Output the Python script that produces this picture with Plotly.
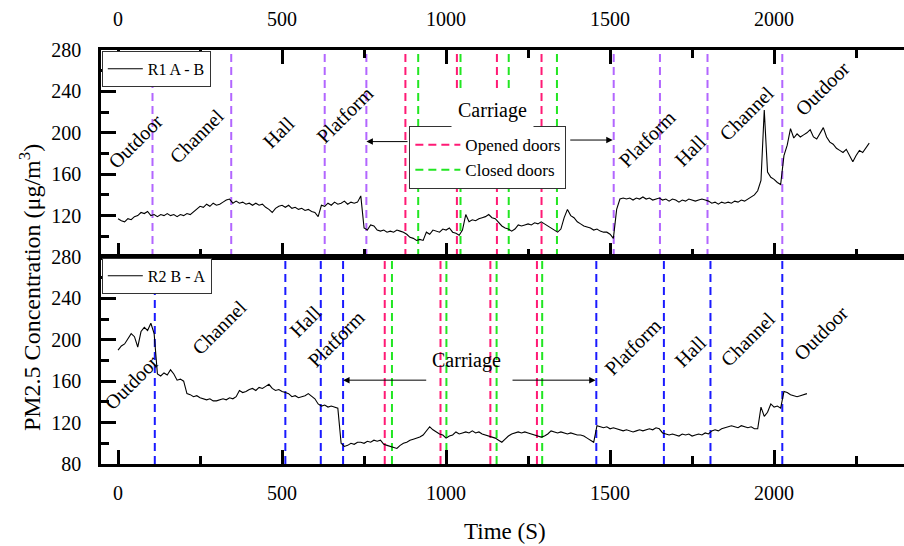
import plotly.graph_objects as go

# ---------------- data ----------------
# R1 (A -> B), sampled every 10 s
r1_time = list(range(0, 2300, 10))
r1_pm = [
    117, 115, 114, 117, 116, 119, 120, 123, 122, 124,
    120, 121, 119, 121, 120, 122, 120, 121, 119, 121,
    120, 122, 121, 124, 126, 129, 128, 131, 129, 132,
    130, 131, 133, 135, 136, 132, 134, 132, 133, 131,
    132, 130, 132, 130, 131, 128, 126, 123, 127, 129,
    130, 128, 130, 127, 128, 126, 127, 125, 126, 124,
    123, 119, 130, 129, 132, 130, 133, 131, 132, 134,
    131, 133, 132, 133, 139, 108, 106, 111, 110, 106,
    105, 106, 104, 105, 104, 106, 105, 104, 102, 99,
    98, 96, 97, 96, 104, 102, 106, 105, 104, 107,
    106, 108, 104, 103, 101, 106, 121, 114, 116, 115,
    117, 118, 119, 121, 118, 117, 113, 110, 108, 107,
    105, 107, 111, 110, 111, 112, 111, 113, 112, 114,
    112, 110, 108, 106, 104, 107, 118, 126, 120, 118,
    114, 112, 110, 109, 108, 106, 107, 105, 104, 104,
    102, 98, 126, 136, 137, 136, 137, 135, 137, 136,
    138, 136, 137, 135, 136, 137, 135, 136, 134, 136,
    135, 133, 135, 134, 136, 135, 134, 135, 136, 135,
    134, 132, 133, 131, 133, 132, 133, 132, 134, 133,
    135, 134, 136, 138, 140, 144, 154, 222, 162, 157,
    155, 152, 150, 178, 188, 204, 195, 199, 196, 198,
    200, 203, 196, 194, 200, 205, 196, 191, 189, 185,
    183, 181, 184, 178, 172, 178, 183, 181, 186, 190,
]

# R2 (B -> A), sampled every 10 s
r2_time = list(range(0, 2110, 10))
r2_pm = [
    190, 194, 196, 201, 206, 203, 193, 208, 212, 209,
    216, 206, 167, 165, 168, 166, 171, 167, 161, 162,
    160, 148, 147, 145, 146, 144, 143, 142, 143, 141,
    141, 142, 143, 142, 144, 143, 145, 151, 149, 150,
    152, 153, 151, 154, 153, 155, 157, 153, 151, 152,
    150, 149, 148, 145, 146, 144, 145, 146, 148, 145,
    143, 138, 136, 137, 135, 136, 135, 134, 100, 97,
    98, 100, 99, 101, 101, 100, 102, 101, 103, 102,
    103, 99, 98, 97, 96, 95, 98, 100, 101, 103,
    104, 105, 106, 108, 112, 116, 113, 111, 109, 108,
    105, 107, 108, 111, 109, 110, 111, 110, 112, 110,
    111, 109, 108, 107, 106, 105, 103, 101, 104, 107,
    109, 110, 111, 110, 111, 110, 109, 108, 107, 106,
    107, 109, 112, 111, 110, 111, 110, 109, 110, 109,
    108, 108, 107, 105, 103, 101, 117, 116, 115, 116,
    114, 115, 114, 113, 112, 113, 112, 111, 112, 113,
    112, 113, 114, 113, 115, 114, 110, 109, 108, 109,
    108, 107, 109, 108, 109, 107, 108, 109, 108, 110,
    109, 112, 113, 112, 114, 115, 116, 117, 116, 115,
    117, 116, 115, 116, 114, 114, 135, 126, 130, 138,
    135, 136, 134, 150, 149, 147, 146, 145, 146, 147,
    148,
]

# location boundaries (s)
r1_zone_edges = [105, 345, 630, 757, 1511, 1652, 1797, 2025]
r2_zone_edges = [112, 510, 618, 686, 1458, 1664, 1806, 2025]

# door events inside the carriage (s)
r1_doors_open = [876, 1033, 1155, 1291]
r1_doors_closed = [915, 1044, 1191, 1338]
r2_doors_open = [813, 983, 1135, 1277]
r2_doors_closed = [835, 1001, 1154, 1293]

# zone names with label anchor (time, concentration)
r1_zone_labels = [
    ("Outdoor", 54, 192), ("Channel", 240, 197), ("Hall", 490, 201),
    ("Platform", 691, 217), ("Platform", 1612, 194), ("Hall", 1746, 183),
    ("Channel", 1917, 219), ("Outdoor", 2149, 243),
]
r2_zone_labels = [
    ("Outdoor", 42, 159), ("Channel", 310, 212), ("Hall", 572, 218),
    ("Platform", 664, 201), ("Platform", 1569, 193), ("Hall", 1746, 189),
    ("Channel", 1920, 201), ("Outdoor", 2142, 207),
]

Y_MIN, Y_MAX = 80, 280
X_RANGE = [-52, 2396]

SERIF = "Liberation Serif"
PURPLE = "#B266FF"
BLUE = "#1A1AFF"
PINK = "#FF1A75"
GREEN = "#22E622"
DASH = "8px,5px"


def vlines(xs):
    """x/y arrays drawing full-height vertical lines at each position."""
    vx, vy = [], []
    for v in xs:
        vx += [v, v, None]
        vy += [Y_MIN, Y_MAX, None]
    return vx, vy


fig = go.Figure()

# ---- top panel (R1) ----
for xs, col, name, show in [
    (r1_zone_edges, PURPLE, "zones", False),
    (r1_doors_open, PINK, "Opened doors", True),
    (r1_doors_closed, GREEN, "Closed doors", True),
]:
    vx, vy = vlines(xs)
    fig.add_trace(go.Scatter(x=vx, y=vy, mode="lines", name=name,
                             line=dict(color=col, width=2, dash=DASH),
                             showlegend=show, legend="legend3",
                             xaxis="x", yaxis="y", hoverinfo="skip"))
fig.add_trace(go.Scatter(x=r1_time, y=r1_pm, mode="lines", name="R1 A - B",
                         line=dict(color="black", width=1.1),
                         legend="legend", xaxis="x", yaxis="y"))

# ---- bottom panel (R2) ----
for xs, col in [(r2_zone_edges, BLUE), (r2_doors_open, PINK), (r2_doors_closed, GREEN)]:
    vx, vy = vlines(xs)
    fig.add_trace(go.Scatter(x=vx, y=vy, mode="lines",
                             line=dict(color=col, width=2, dash=DASH),
                             showlegend=False, xaxis="x2", yaxis="y2", hoverinfo="skip"))
fig.add_trace(go.Scatter(x=r2_time, y=r2_pm, mode="lines", name="R2 B - A",
                         line=dict(color="black", width=1.1),
                         legend="legend2", xaxis="x2", yaxis="y2"))

# ---- axes ----
tickfont = dict(family=SERIF, size=20, color="black")
frame = dict(showline=True, linecolor="black", linewidth=2.5, showgrid=False,
             zeroline=False, ticks="inside", tickcolor="black", tickwidth=2.5)

xcommon = dict(range=X_RANGE, tickvals=[0, 500, 1000, 1500, 2000], ticklen=14,
               minor=dict(tickvals=[250, 750, 1250, 1750, 2250], ticks="inside",
                          ticklen=8, tickcolor="black", tickwidth=2.5),
               tickfont=tickfont, **frame)

y_major_top = [120, 160, 200, 240, 280]
y_major_bot = [80, 120, 160, 200, 240, 280]
y_minor = dict(tickvals=[100, 140, 180, 220, 260], ticks="inside", ticklen=8,
               tickcolor="black", tickwidth=2.5)

fig.update_layout(
    xaxis=dict(domain=[0, 1], anchor="y", side="top", mirror="allticks",
               ticklabelstandoff=13, **xcommon),
    xaxis2=dict(domain=[0, 1], anchor="y2", side="bottom", mirror=True,
                ticklabelstandoff=9, **xcommon),
    yaxis=dict(domain=[0.5, 1], anchor="x", range=[Y_MIN, Y_MAX],
               tickvals=y_major_top, ticklen=15, minor=y_minor,
               tickfont=tickfont, ticklabelstandoff=13, **frame),
    yaxis2=dict(domain=[0, 0.5], anchor="x2", range=[Y_MIN, Y_MAX],
                tickvals=y_major_bot, ticklen=15, minor=y_minor,
                tickfont=tickfont, ticklabelstandoff=13, **frame),
    # right-hand tick marks (frame edge lies at the page border)
    yaxis3=dict(overlaying="y", anchor="x", side="right", range=[Y_MIN, Y_MAX],
                tickvals=y_major_top, ticklen=13, minor=y_minor, showticklabels=False,
                ticks="inside", tickcolor="black", tickwidth=2.5, showline=False,
                showgrid=False, zeroline=False),
    yaxis4=dict(overlaying="y2", anchor="x2", side="right", range=[Y_MIN, Y_MAX],
                tickvals=y_major_bot, ticklen=13, minor=y_minor, showticklabels=False,
                ticks="inside", tickcolor="black", tickwidth=2.5, showline=False,
                showgrid=False, zeroline=False),
)

# ---- legends ----
legend_style = dict(bgcolor="white", bordercolor="#333333", borderwidth=1,
                    xanchor="left", yanchor="top", itemclick=False,
                    tracegroupgap=0)
fig.update_layout(
    legend=dict(x=0.001, y=0.998, itemwidth=35,
                font=dict(family=SERIF, size=16, color="black"), **legend_style),
    legend2=dict(x=0.001, y=0.498, itemwidth=35,
                 font=dict(family=SERIF, size=16, color="black"), **legend_style),
    legend3=dict(x=0.384, y=0.816, itemwidth=45,
                 font=dict(family=SERIF, size=17, color="black"), **legend_style),
)

# ---- annotations ----
annotations = []
lab_font = dict(family=SERIF, size=20, color="black")
for text, t, v in r1_zone_labels:
    annotations.append(dict(x=t, y=v, xref="x", yref="y", text=text, textangle=-45,
                            showarrow=False, font=lab_font))
for text, t, v in r2_zone_labels:
    annotations.append(dict(x=t, y=v, xref="x2", yref="y2", text=text, textangle=-45,
                            showarrow=False, font=lab_font))

arrow = dict(text="", showarrow=True, arrowhead=2, arrowsize=1.3, arrowwidth=1,
             arrowcolor="black")
annotations += [
    dict(x=1142, y=222, xref="x", yref="y", text="Carriage", showarrow=False,
         font=lab_font, bgcolor="white", borderpad=6),
    dict(x=757, y=191.5, ax=887, ay=191.5, xref="x", yref="y", axref="x", ayref="y",
         **arrow),
    dict(x=1508, y=193, ax=1374, ay=193, xref="x", yref="y", axref="x", ayref="y",
         **arrow),
    dict(x=1063, y=180, xref="x2", yref="y2", text="Carriage", showarrow=False,
         font=lab_font),
    dict(x=686, y=161, ax=944, ay=161, xref="x2", yref="y2", axref="x2", ayref="y2",
         **arrow),
    dict(x=1456, y=161, ax=1198, ay=161, xref="x2", yref="y2", axref="x2", ayref="y2",
         **arrow),
    dict(x=-0.0884, y=0.425, xref="paper", yref="paper", xanchor="center",
         yanchor="middle", textangle=-90,
         text="PM2.5 Concentration (μg/m<sup>3</sup>)", showarrow=False,
         font=dict(family=SERIF, size=24, color="black")),
    dict(x=0.503, y=-0.164, xref="paper", yref="paper", xanchor="center",
         yanchor="middle", text="Time (S)", showarrow=False,
         font=dict(family=SERIF, size=23, color="black")),
]

fig.update_layout(
    annotations=annotations,
    width=904, height=546,
    margin=dict(l=101, r=0, t=50, b=82),
    paper_bgcolor="white", plot_bgcolor="white",
    font=dict(family=SERIF, color="black"),
    showlegend=True,
)

fig.write_html("out.html")
